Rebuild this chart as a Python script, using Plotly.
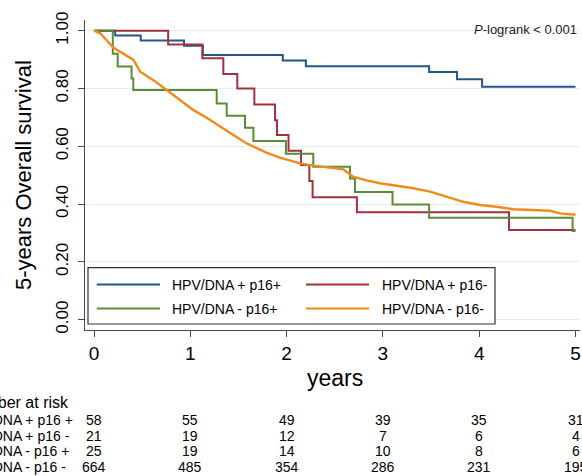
import plotly.graph_objects as go

# ---------------- data ----------------
series_names = ["HPV/DNA + p16+", "HPV/DNA + p16-", "HPV/DNA - p16+", "HPV/DNA - p16-"]

blue_t = [0, 0.22, 0.485, 0.935, 1.13, 1.96, 2.20, 3.48, 3.77, 4.03, 5.0]
blue_s = [1.0, 0.983, 0.966, 0.948, 0.916, 0.897, 0.877, 0.857, 0.832, 0.806, 0.806]

red_t = [0, 0.77, 1.125, 1.343, 1.488, 1.665, 1.88, 1.90, 2.02, 2.15, 2.236, 2.27, 2.73, 4.31, 5.0]
red_s = [1.0, 0.952, 0.905, 0.850, 0.800, 0.745, 0.690, 0.639, 0.585, 0.535, 0.480, 0.424, 0.372, 0.310, 0.310]

green_t = [0, 0.195, 0.246, 0.39, 0.408, 1.274, 1.378, 1.568, 1.655, 1.993, 2.277, 2.658, 2.71, 3.10, 3.48, 4.97, 5.0]
green_s = [1.0, 0.920, 0.876, 0.835, 0.795, 0.748, 0.706, 0.664, 0.618, 0.574, 0.529, 0.489, 0.442, 0.399, 0.353, 0.307, 0.307]

orange_t = [0, 0.065, 0.2, 0.27, 0.41, 0.48, 0.616, 0.755, 0.893, 1.03, 1.17, 1.31, 1.447, 1.586,
            1.79, 1.93, 2.14, 2.28, 2.45, 2.59, 2.69, 2.83, 2.97, 3.18, 3.316, 3.49, 3.66, 3.835,
            4.008, 4.18, 4.356, 4.53, 4.735, 4.84, 4.98, 5.0]
orange_s = [1.0, 0.991, 0.942, 0.927, 0.899, 0.858, 0.829, 0.795, 0.760, 0.726, 0.699, 0.668, 0.639, 0.610,
            0.578, 0.561, 0.541, 0.533, 0.527, 0.520, 0.495, 0.482, 0.472, 0.461, 0.455, 0.443, 0.426, 0.408,
            0.397, 0.391, 0.382, 0.380, 0.377, 0.368, 0.363, 0.363]

risk_years = [0, 1, 2, 3, 4, 5]
risk_labels = ["HPV/DNA + p16 +", "HPV/DNA + p16 -", "HPV/DNA - p16 +", "HPV/DNA - p16 -"]
risk_blue = [58, 55, 49, 39, 35, 31]
risk_red = [21, 19, 12, 7, 6, 4]
risk_green = [25, 19, 14, 10, 8, 6]
risk_orange = [664, 485, 354, 286, 231, 195]

y_ticks = [0, 0.2, 0.4, 0.6, 0.8, 1.0]
x_ticks = [0, 1, 2, 3, 4, 5]

# ---------------- style ----------------
FONT = "Liberation Sans, Arial, Helvetica, sans-serif"
C_BLUE = "#24568a"
C_RED = "#a3303f"
C_GREEN = "#5a8c38"
C_ORANGE = "#f28a1a"
AXC = "#4a4a4a"

W, H = 582, 476
L, R, T, B = 85, 580, 20, 330


def px(x):
    return (x - L) / (R - L)


def py(y):
    return (B - y) / (B - T)


fig = go.Figure()
for t, s, c, n, w in [
    (blue_t, blue_s, C_BLUE, series_names[0], 2),
    (red_t, red_s, C_RED, series_names[1], 2),
    (green_t, green_s, C_GREEN, series_names[2], 2),
    (orange_t, orange_s, C_ORANGE, series_names[3], 2.4),
]:
    shape = "linear" if c == C_ORANGE else "hv"
    fig.add_trace(go.Scatter(x=t, y=s, mode="lines", name=n,
                             line=dict(color=c, width=w, shape=shape),
                             showlegend=False, hoverinfo="skip"))

# x/y ranges from pixel layout
x_per = 96.3
x0 = 94
y_per = 289
y0 = 319.7
xr = [(L - x0) / x_per, (R - x0) / x_per]
yr = [(y0 - B) / y_per, (y0 - T) / y_per]

fig.update_layout(
    width=W, height=H,
    margin=dict(l=L, r=W - R, t=T, b=H - B),
    paper_bgcolor="white", plot_bgcolor="white",
    font=dict(family=FONT, color="black"),
    xaxis=dict(range=xr, tickvals=x_ticks, ticktext=[str(v) for v in x_ticks],
               showgrid=False, zeroline=False, showline=True, linecolor=AXC, linewidth=1.3,
               ticks="outside", ticklen=6, tickcolor=AXC, tickwidth=1.3,
               tickfont=dict(size=19, family=FONT, color="black")),
    yaxis=dict(range=yr, tickvals=y_ticks, ticktext=["%.2f" % v for v in y_ticks],
               showgrid=True, gridcolor="#e4eef0", gridwidth=1, zeroline=False,
               showline=True, linecolor=AXC, linewidth=1.3,
               ticks="outside", ticklen=6, tickcolor=AXC, tickwidth=1.3, tickangle=-90,
               ticklabelstandoff=3,
               tickfont=dict(size=17, family=FONT, color="black")),
)

shapes = []
ann = []

# legend box
shapes.append(dict(type="rect", xref="paper", yref="paper", x0=px(88), x1=px(495), y0=py(324), y1=py(267.7),
                   line=dict(color="#333333", width=1.2), fillcolor="white", layer="above"))
leg = [
    (96.7, 160, 170, 284.5, C_BLUE, series_names[0]),
    (306, 369, 380, 284.5, C_RED, series_names[1]),
    (96.7, 160, 170, 308.5, C_GREEN, series_names[2]),
    (306, 369, 380, 308.5, C_ORANGE, series_names[3]),
]
for xa, xb, xt, yy, c, n in leg:
    shapes.append(dict(type="line", xref="paper", yref="paper", x0=px(xa), x1=px(xb), y0=py(yy), y1=py(yy),
                       line=dict(color=c, width=2), layer="above"))
    ann.append(dict(text=n, xref="paper", yref="paper", x=px(xt), y=py(yy), xanchor="left", yanchor="middle",
                    showarrow=False, font=dict(size=14, family=FONT, color="black")))

# P-logrank
ann.append(dict(text="<i>P</i>-logrank &lt; 0.001", xref="paper", yref="paper", x=px(579), y=py(29),
                xanchor="right", yanchor="middle", showarrow=False,
                font=dict(size=13, family=FONT, color="#222222")))

# axis titles
ann.append(dict(text="5-years Overall survival", xref="paper", yref="paper", x=px(23), y=py(175),
                textangle=-90, xanchor="center", yanchor="middle", showarrow=False,
                font=dict(size=22, family=FONT, color="black")))
ann.append(dict(text="years", xref="x", yref="paper", x=2.5, y=py(378),
                xanchor="center", yanchor="middle", showarrow=False,
                font=dict(size=23, family=FONT, color="black")))

# risk table
ann.append(dict(text="Number at risk", xref="paper", yref="paper", x=px(71), y=py(402),
                xanchor="right", yanchor="middle", showarrow=False,
                font=dict(size=16, family=FONT, color="black")))
row_y = [420, 435.5, 451, 466.5]
for lab, vals, yy in zip(risk_labels, [risk_blue, risk_red, risk_green, risk_orange], row_y):
    ann.append(dict(text=lab, xref="paper", yref="paper", x=px(-42), y=py(yy),
                    xanchor="left", yanchor="middle", showarrow=False,
                    font=dict(size=14, family=FONT, color="black")))
    for yr_, v in zip(risk_years, vals):
        ann.append(dict(text=str(v), xref="x", yref="paper", x=yr_, y=py(yy),
                        xanchor="center", yanchor="middle", showarrow=False,
                        font=dict(size=14, family=FONT, color="black")))

fig.update_layout(shapes=shapes, annotations=ann)
fig.write_html("out.html", config={"displayModeBar": False},
               post_script="document.body.style.margin='0';document.body.style.padding='0';document.body.style.overflow='hidden';")
